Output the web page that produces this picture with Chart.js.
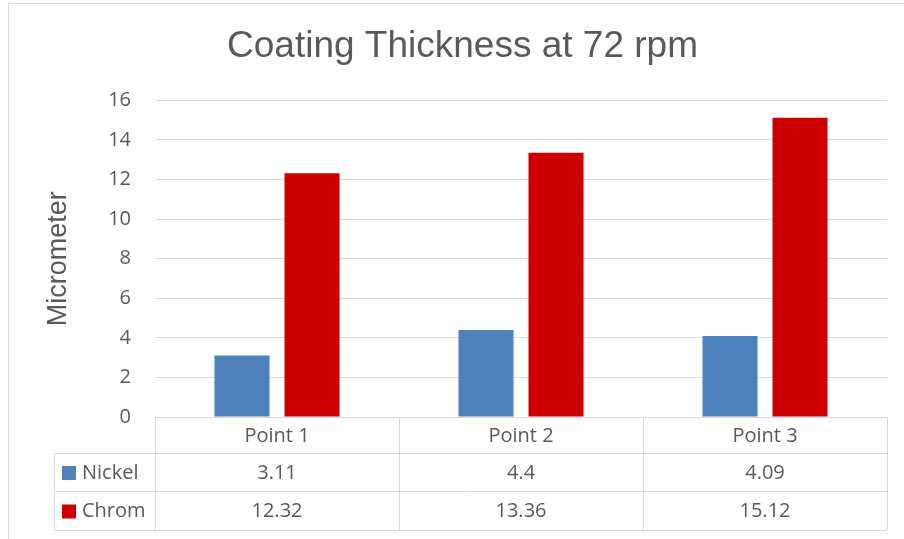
<!DOCTYPE html>
<html>
<head>
<meta charset="utf-8">
<script src="https://cdn.jsdelivr.net/npm/chart.js@4.4.1/dist/chart.umd.min.js"></script>
<style>
    html, body { margin: 0; padding: 0; background: #fff; overflow: hidden; }
    #wrap { position: relative; width: 904px; height: 539px; }
    #frame { position: absolute; left: 8px; top: 3px; width: 1000px; height: 1000px; border: 1px solid #d9d9d9; }
    canvas { position: absolute; left: 0; top: 0; }
</style>
</head>
<body>
<div id="wrap">
    <div id="frame"></div>
    <canvas id="chart" width="904" height="539"></canvas>
</div>
<script>
// chart data
const categories = ['Point 1', 'Point 2', 'Point 3'];
const nickel = [3.11, 4.4, 4.09];
const chrom = [12.32, 13.36, 15.12];
const yTicks = [0, 2, 4, 6, 8, 10, 12, 14, 16];

const seriesNames = ['Nickel', 'Chrom'];
const seriesColors = ['#4F81BD', '#CC0000'];
const textColor = '#595959';
const lineColor = '#d9d9d9';
const tableFont = '20px "Open Sans"';

// draws the Excel-style data table under the plot, aligned to the x scale
const dataTablePlugin = {
    id: 'dataTable',
    afterDraw(chart) {
        const ctx = chart.ctx;
        const x = chart.scales.x;
        const area = chart.chartArea;
        const colW = x.width / categories.length;
        const rows = [area.bottom, area.bottom + 36, area.bottom + 74, area.bottom + 113];
        const leftX = 54;
        const series = [nickel, chrom];

        ctx.save();
        ctx.strokeStyle = lineColor;
        ctx.lineWidth = 1;
        ctx.beginPath();
        // header top line
        ctx.moveTo(area.left, rows[0] + 0.5);
        ctx.lineTo(area.right, rows[0] + 0.5);
        for (let r = 1; r < rows.length; r++) {
            ctx.moveTo(leftX, Math.round(rows[r]) + 0.5);
            ctx.lineTo(area.right, Math.round(rows[r]) + 0.5);
        }
        ctx.moveTo(leftX + 0.5, rows[1]);
        ctx.lineTo(leftX + 0.5, rows[3]);
        for (let i = 0; i <= categories.length; i++) {
            const px = Math.round(x.getPixelForValue(0) - colW / 2 + i * colW) + 0.5;
            ctx.moveTo(px, rows[0]);
            ctx.lineTo(px, rows[3]);
        }
        ctx.stroke();

        ctx.font = tableFont;
        ctx.fillStyle = textColor;
        ctx.textAlign = 'center';
        ctx.textBaseline = 'middle';
        categories.forEach((c, i) => {
            ctx.fillText(c, x.getPixelForValue(i), (rows[0] + rows[1]) / 2 + 1);
        });
        series.forEach((vals, s) => {
            const cy = (rows[s + 1] + rows[s + 2]) / 2 + 1;
            vals.forEach((v, i) => {
                ctx.fillText(String(v), x.getPixelForValue(i), cy);
            });
            ctx.fillStyle = seriesColors[s];
            ctx.fillRect(62, cy - 7, 14, 14);
            ctx.fillStyle = textColor;
            ctx.textAlign = 'left';
            ctx.fillText(seriesNames[s], 82, cy);
            ctx.textAlign = 'center';
        });
        ctx.restore();
    }
};

new Chart(document.getElementById('chart'), {
    type: 'bar',
    data: {
        labels: categories,
        datasets: [
            {
                label: seriesNames[0],
                data: nickel,
                backgroundColor: seriesColors[0],
                categoryPercentage: 0.574,
                barPercentage: 0.786
            },
            {
                label: seriesNames[1],
                data: chrom,
                backgroundColor: seriesColors[1],
                categoryPercentage: 0.574,
                barPercentage: 0.786
            }
        ]
    },
    options: {
        responsive: false,
        animation: false,
        layout: {
            padding: { left: 38, right: 17, top: 0, bottom: 122 }
        },
        plugins: {
            legend: { display: false },
            tooltip: { enabled: false },
            title: {
                display: true,
                text: 'Coating Thickness at 72 rpm',
                color: textColor,
                font: { family: '"Liberation Sans", Arial', size: 37, weight: 'normal' },
                padding: { top: 25, bottom: 31 }
            }
        },
        scales: {
            x: {
                display: false
            },
            y: {
                min: 0,
                max: 16,
                afterBuildTicks(scale) {
                    scale.ticks = yTicks.map(v => ({ value: v }));
                },
                afterFit(scale) {
                    scale.width = 117;
                },
                ticks: {
                    color: textColor,
                    font: { family: '"Open Sans"', size: 20 },
                    padding: 24
                },
                grid: {
                    color: lineColor,
                    drawTicks: false
                },
                border: { display: false },
                title: {
                    display: true,
                    text: 'Micrometer',
                    color: textColor,
                    font: { family: '"Liberation Sans", Arial', size: 27 },
                    padding: { top: 4, bottom: 0 }
                }
            }
        }
    },
    plugins: [dataTablePlugin]
});
</script>
</body>
</html>
